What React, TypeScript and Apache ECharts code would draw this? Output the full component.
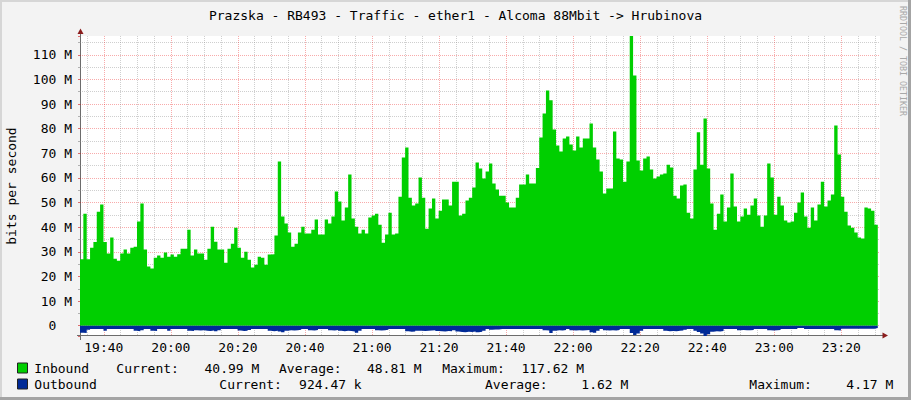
import React, { useEffect, useRef } from "react";
import * as echarts from "echarts";

// ---- data ----
const TITLE = "Prazska - RB493 - Traffic - ether1 - Alcoma 88Mbit -> Hrubinova";
const BASE_HOUR = 19; // x values are minutes after 19:00
const START_MINUTE = 32.89; // left edge of the plot (≈19:32:53)
const SPAN_MINUTES = 238.66;
const STEP_MINUTES = 1;
const Y_MIN = -4.17;
const Y_MAX = 117.62;

// Inbound, Mbit/s, one value per minute
const inbound: number[] = [
  27, 45.5, 27, 31.7, 34, 46.3, 49.2, 34, 29.3, 35.8, 27.2, 26.4, 29.3, 30.9, 29.3, 31.7, 32.1, 42.3, 49.6, 30.9,
  24, 23.2, 27.6, 28.5, 27.6, 29.7, 28, 28.9, 28, 29, 31.3, 31.3, 39, 28.5, 30.9, 29.3, 29.3, 26.8, 31.3, 40.2,
  34.1, 30.9, 30.9, 25.6, 31.3, 33.3, 39.8, 31.7, 27.6, 30, 26.8, 23.6, 24.8, 28, 27.6, 24.8, 28.9, 29, 36.6, 66.7,
  44.3, 41.5, 37.8, 32.1, 33.3, 37.8, 40.2, 37.4, 37.4, 39, 43.1, 37, 37, 43.1, 41.5, 44.3, 54.5, 50.4, 42.7, 48,
  61.4, 43.5, 40.2, 37.4, 39, 37.4, 43.9, 44.7, 45.5, 41, 33.7, 37, 45.9, 37, 37.4, 52.4, 68.3, 72.4, 52, 48.8,
  49.6, 60.2, 52, 39.4, 47.6, 51.6, 43.5, 46.7, 51.2, 51.2, 48.8, 58.5, 58.5, 44.7, 45.5, 50.8, 52, 56.1, 66.3,
  63.8, 59.8, 62.6, 65.9, 57.7, 55.3, 52.8, 52.8, 50, 48, 48, 52, 57.3, 57.3, 61.4, 57.7, 57.7, 64, 76.4, 86.2,
  95.5, 91.5, 79.7, 73.2, 70.7, 76, 76.8, 73.6, 71.1, 76.8, 72.4, 76, 76, 82.1, 72.4, 67.5, 62.6, 53.7, 55.7, 55.7,
  78.9, 67.9, 67.5, 58.5, 66.7, 117.62, 101.6, 67.1, 63, 67.9, 68.7, 63.4, 59.8, 60.6, 61.4, 61.8, 65.4, 64.2, 52.8, 51.6,
  56.9, 57.3, 45.9, 43.5, 63.4, 78.5, 65.4, 84.1, 63.8, 49.6, 39, 45.5, 53.3, 42.3, 48, 61.8, 48.4, 42.3, 44.3, 47.6,
  45.1, 48.8, 51.6, 44.7, 40.2, 44.7, 65.9, 60.2, 45.1, 52.4, 48.8, 42.7, 41.9, 42.3, 45.9, 50, 54.1, 44.3, 39.8, 48,
  42.7, 49.2, 58.5, 48.4, 50.8, 53.3, 81.3, 69.5, 52.4, 46.3, 40.7, 39.8, 37.8, 35.8, 35.4, 48, 47.6, 46.7, 40.99,
];

// Outbound, Mbit/s (drawn below zero), one value per minute
const outbound: number[] = [
  2.8, 3.0, 1.6, 1.3, 1.3, 1.3, 1.3, 2.0, 1.3, 1.3, 1.3, 1.3, 1.3, 1.3, 1.3, 1.3, 2.0, 2.2, 1.8, 1.3,
  1.3, 2.0, 2.1, 1.3, 1.3, 1.3, 2.0, 1.3, 1.3, 1.3, 1.3, 1.3, 2.0, 2.1, 1.8, 1.9, 1.8, 2.0, 2.1, 1.9,
  2.2, 1.8, 1.3, 1.3, 1.3, 1.3, 1.3, 1.9, 2.1, 2.0, 1.7, 1.3, 1.3, 1.3, 1.3, 1.3, 2.0, 2.2, 2.0, 2.3,
  2.6, 2.0, 1.8, 1.9, 1.8, 1.6, 1.3, 1.3, 1.8, 1.9, 1.7, 1.3, 1.3, 1.3, 1.8, 1.9, 1.7, 2.0, 2.2, 2.0,
  2.1, 2.3, 2.9, 2.0, 1.3, 1.3, 1.3, 1.3, 1.8, 1.9, 1.8, 1.6, 1.3, 1.3, 1.3, 1.3, 1.3, 2.2, 2.4, 2.3,
  2.0, 2.0, 2.1, 2.0, 1.9, 1.8, 2.1, 2.2, 2.3, 2.1, 2.2, 1.8, 2.3, 2.5, 2.6, 2.4, 2.5, 2.3, 2.6, 2.4,
  2.0, 1.3, 1.6, 1.5, 1.5, 1.3, 1.3, 1.3, 1.3, 1.3, 1.3, 1.3, 1.3, 1.3, 1.3, 1.3, 1.3, 1.3, 1.8, 1.9,
  3.0, 2.0, 1.8, 1.9, 1.7, 1.3, 1.8, 1.9, 1.8, 1.9, 1.8, 1.7, 2.6, 2.9, 2.0, 1.3, 1.8, 1.9, 1.8, 1.9,
  1.7, 1.3, 1.3, 1.3, 3.0, 3.8, 3.2, 2.0, 1.3, 1.3, 1.3, 1.3, 1.3, 1.3, 2.0, 2.2, 2.1, 2.2, 2.0, 1.9,
  1.6, 1.3, 1.3, 2.0, 2.5, 3.2, 4.17, 3.5, 2.4, 2.2, 2.3, 2.1, 1.3, 1.3, 1.3, 1.3, 1.8, 1.7, 1.8, 1.8,
  1.7, 1.3, 1.3, 1.3, 1.3, 1.8, 1.9, 1.8, 1.7, 1.3, 1.3, 1.3, 1.3, 1.3, 0.9, 0.9, 1.3, 1.3, 1.3, 1.3,
  1.3, 1.3, 1.3, 1.3, 1.3, 1.8, 1.9, 1.2, 1.2, 1.2, 1.2, 1.2, 1.2, 1.2, 1.2, 1.2, 1.2, 0.92,
];

const legendLabels = ["Inbound", "Outbound"];
const legendColors = ["#00CF00", "#002A97"];
const inboundStats = ["40.99 M", "48.81 M", "117.62 M"];
const outboundStats = ["924.47 k", "1.62 M", "4.17 M"];

const MONO = "DejaVu Sans Mono";

function toSeries(vals: number[], sign: number) {
  const pts: [number, number][] = vals.map((v, i) => [START_MINUTE + i * STEP_MINUTES, sign * v]);
  pts.push([START_MINUTE + vals.length * STEP_MINUTES, sign * vals[vals.length - 1]]);
  return pts;
}

function txt(x: number, y: number, text: string, opts: any = {}) {
  return {
    type: "text",
    x,
    y,
    silent: true,
    rotation: opts.rotation || 0,
    style: {
      text,
      font: `${opts.size || 13}px "${MONO}"`,
      fill: opts.color || "#000",
      textAlign: opts.align || "left",
      textVerticalAlign: "middle",
    },
  };
}

export default function App() {
  const ref = useRef<HTMLDivElement>(null);

  useEffect(() => {
    document.body.style.margin = "0";
    if (!ref.current) return;
    const chart = echarts.init(ref.current, undefined, { renderer: "svg" });

    const G = { left: 80, top: 36, width: 800, height: 300 };
    const axisColor = "#6c6c6c";
    const arrowColor = "#8a1c1c";
    const majorGrid = "rgba(235,0,0,0.33)";
    const minorGrid = "rgba(140,140,140,0.42)";
    const LABEL_MARGIN = 8;
    const CHAR_W = 7.83;

    const row1 = 368;
    const row2 = 384;

    const graphics: any[] = [
      // 3D frame
      { type: "rect", silent: true, shape: { x: 0, y: 0, width: 911, height: 2 }, style: { fill: "#d6d6d6" } },
      { type: "rect", silent: true, shape: { x: 0, y: 0, width: 2, height: 400 }, style: { fill: "#d6d6d6" } },
      { type: "rect", silent: true, shape: { x: 908, y: 0, width: 3, height: 400 }, style: { fill: "#a4a4a4" } },
      { type: "rect", silent: true, shape: { x: 0, y: 397, width: 911, height: 3 }, style: { fill: "#a4a4a4" } },
      // title
      txt(455.5, 15, TITLE, { align: "center" }),
      // watermark
      txt(902.5, 61, "RRDTOOL / TOBI OETIKER", { size: 8.3, color: "#a8a8a8", align: "center", rotation: -Math.PI / 2 }),
      // axis extensions + arrows
      { type: "line", silent: true, shape: { x1: 80.5, y1: 31, x2: 80.5, y2: 340 }, style: { stroke: axisColor, lineWidth: 1 } },
      { type: "line", silent: true, shape: { x1: 77, y1: 335.5, x2: 884, y2: 335.5 }, style: { stroke: axisColor, lineWidth: 1 } },
      { type: "polygon", silent: true, shape: { points: [[77.5, 34], [83.5, 34], [80.5, 28.5]] }, style: { fill: arrowColor } },
      { type: "polygon", silent: true, shape: { points: [[882.5, 332.5], [882.5, 338.5], [888, 335.5]] }, style: { fill: arrowColor } },
      // legend boxes
      { type: "rect", silent: true, shape: { x: 17.5, y: row1 - 5, width: 10, height: 10 }, style: { fill: legendColors[0], stroke: "#222", lineWidth: 1 } },
      { type: "rect", silent: true, shape: { x: 17.5, y: row2 - 5, width: 10, height: 10 }, style: { fill: legendColors[1], stroke: "#222", lineWidth: 1 } },
      // legend row 1
      txt(34.3, row1, legendLabels[0]),
      txt(116.3, row1, "Current:"),
      txt(259.3, row1, inboundStats[0], { align: "right" }),
      txt(279, row1, "Average:"),
      txt(421.7, row1, inboundStats[1], { align: "right" }),
      txt(442.2, row1, "Maximum:"),
      txt(584, row1, inboundStats[2], { align: "right" }),
      // legend row 2
      txt(34.3, row2, legendLabels[1]),
      txt(219.3, row2, "Current:"),
      txt(361.7, row2, outboundStats[0], { align: "right" }),
      txt(485, row2, "Average:"),
      txt(628.3, row2, outboundStats[1], { align: "right" }),
      txt(749.3, row2, "Maximum:"),
      txt(893.3, row2, outboundStats[2], { align: "right" }),
    ];

    const xFmt = (v: number) => {
      const r = Math.round(v);
      if (Math.abs(v - r) > 1e-3 || r % 20 !== 0) return "";
      const h = BASE_HOUR + Math.floor(r / 60);
      const m = r % 60;
      return `${h}:${String(m).padStart(2, "0")}`;
    };
    // the zero label is placed separately (rrdtool pads it with the unit column)
    const yFmt = (v: number) => {
      const r = Math.round(v);
      if (Math.abs(v - r) > 1e-3 || r % 10 !== 0 || r === 0) return "";
      return `${r} M`;
    };

    chart.setOption({
      animation: false,
      backgroundColor: "#f3f3f3",
      textStyle: { fontFamily: MONO },
      grid: { ...G, show: true, backgroundColor: "#ffffff", borderWidth: 0, containLabel: false, outerBoundsMode: "none" },
      xAxis: {
        type: "value",
        min: START_MINUTE,
        max: START_MINUTE + SPAN_MINUTES,
        splitNumber: 12,
        axisLine: { show: false, onZero: false },
        axisTick: { show: false },
        minorTick: { show: false, splitNumber: 4 },
        splitLine: { show: true, showMinLine: false, showMaxLine: false, lineStyle: { color: majorGrid, type: [1, 1], width: 1 } },
        minorSplitLine: { show: true, lineStyle: { color: minorGrid, type: [1, 1], width: 1 } },
        axisLabel: {
          formatter: xFmt,
          showMinLabel: false,
          showMaxLabel: false,
          fontFamily: MONO,
          fontSize: 13,
          color: "#000",
          margin: 5,
        },
      },
      yAxis: {
        type: "value",
        min: Y_MIN,
        max: Y_MAX,
        splitNumber: 12,
        name: "bits per second",
        nameLocation: "middle",
        nameGap: 62,
        nameRotate: 90,
        nameTextStyle: { fontFamily: MONO, fontSize: 13, color: "#000" },
        axisLine: { show: false },
        axisTick: { show: true, length: 2, lineStyle: { color: "rgba(200,0,0,0.55)" } },
        minorTick: { show: true, splitNumber: 2, length: 2, lineStyle: { color: "#b0b0b0" } },
        splitLine: { show: true, showMinLine: false, showMaxLine: false, lineStyle: { color: majorGrid, type: [1, 1], width: 1 } },
        minorSplitLine: { show: true, lineStyle: { color: minorGrid, type: [1, 1], width: 1 } },
        axisLabel: {
          formatter: yFmt,
          showMinLabel: false,
          showMaxLabel: false,
          fontFamily: MONO,
          fontSize: 13,
          color: "#000",
          margin: LABEL_MARGIN,
        },
      },
      series: [
        {
          name: legendLabels[0],
          type: "line",
          step: "end",
          data: toSeries(inbound, 1),
          showSymbol: false,
          lineStyle: { width: 0 },
          areaStyle: { color: legendColors[0], opacity: 1 },
          itemStyle: { color: legendColors[0] },
        },
        {
          name: legendLabels[1],
          type: "line",
          step: "end",
          data: toSeries(outbound, -1),
          showSymbol: false,
          lineStyle: { width: 0 },
          areaStyle: { color: legendColors[1], opacity: 1 },
          itemStyle: { color: legendColors[1] },
        },
      ],
      graphic: graphics,
    });

    // zero label, positioned through the axis scale
    const zeroY = chart.convertToPixel({ yAxisIndex: 0 }, 0) as number;
    const axisX = G.left;
    graphics.push(txt(axisX - LABEL_MARGIN - 2 * CHAR_W, zeroY, "0", { align: "right" }));
    chart.setOption({ graphic: graphics });

    return () => chart.dispose();
  }, []);

  return <div ref={ref} style={{ width: 911, height: 400 }} />;
}
